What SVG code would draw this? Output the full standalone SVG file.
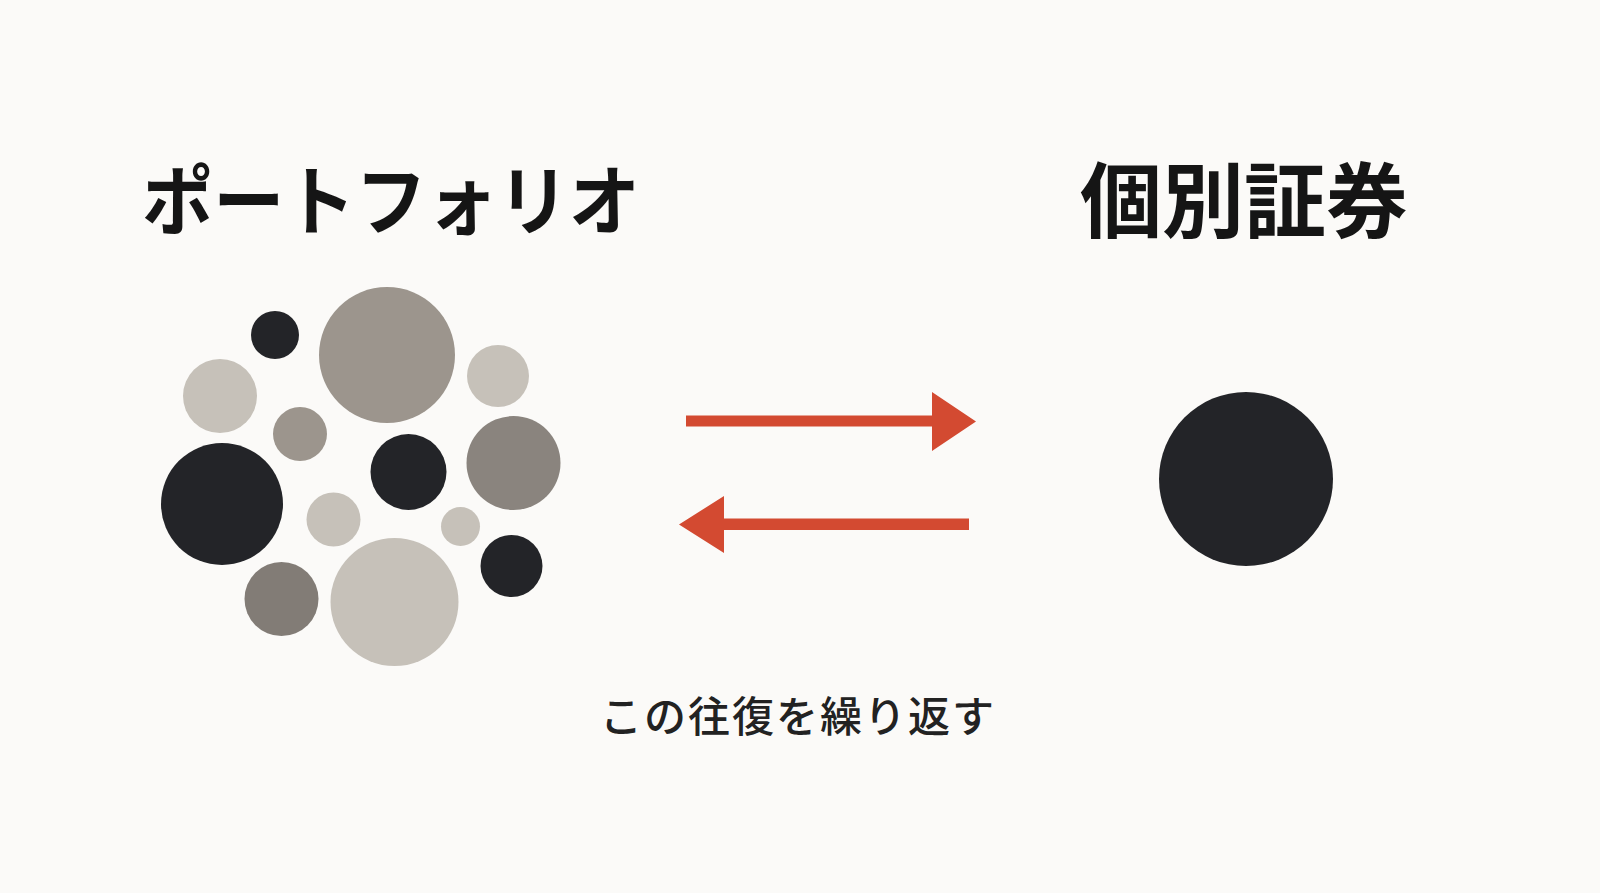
<svg xmlns="http://www.w3.org/2000/svg" width="1600" height="893" viewBox="0 0 1600 893">
<style>
.title{font-family:"Noto Sans CJK JP","Noto Sans CJK SC",sans-serif;font-weight:700;fill:#151515}
.sub{font-family:"Noto Sans CJK JP","Noto Sans CJK SC",sans-serif;font-weight:500;fill:#222}
.dark{fill:#232428}
.light{fill:#c6c1b9}
.mid{fill:#9c958d}
.gray{fill:#8a847e}
.arrow{fill:#d34a31}
</style>
<rect width="1600" height="893" fill="#fbfaf8"/>
<g id="title-portfolio"><text class="title" x="142" y="229" font-size="76" textLength="498" lengthAdjust="spacingAndGlyphs">ポートフォリオ</text></g>
<g id="title-individual"><text class="title" x="1080" y="231" font-size="82" textLength="328" lengthAdjust="spacingAndGlyphs">個別証券</text></g>
<g id="portfolio">
<circle class="dark" cx="275" cy="335" r="24"/>
<circle class="mid" cx="387" cy="355" r="68"/>
<circle class="light" cx="220" cy="396" r="37"/>
<circle class="light" cx="498" cy="376" r="31"/>
<circle class="mid" cx="300" cy="434" r="27"/>
<circle class="dark" cx="408.5" cy="472" r="38"/>
<circle class="gray" cx="513.5" cy="463" r="47"/>
<circle class="dark" cx="222" cy="504" r="61"/>
<circle class="light" cx="333.5" cy="519.5" r="27"/>
<circle class="light" cx="460.5" cy="526.5" r="19.5"/>
<circle class="dark" cx="511.5" cy="566" r="31"/>
<circle fill="#827c76" cx="281.5" cy="599" r="37"/>
<circle class="light" cx="394.5" cy="602" r="64"/>
</g>
<g id="security"><circle class="dark" cx="1246" cy="479" r="87"/></g>
<g id="connectors">
<path class="arrow" d="M686 415.5 H932 V392 L976 421.5 L932 451 V426.5 H686 Z"/>
<path class="arrow" d="M969 518.5 H724 V496 L679 524.5 L724 553 V530 H969 Z"/>
</g>
<g id="caption"><text class="sub" x="600" y="732" font-size="42" textLength="394" lengthAdjust="spacing">この往復を繰り返す</text></g>
</svg>
